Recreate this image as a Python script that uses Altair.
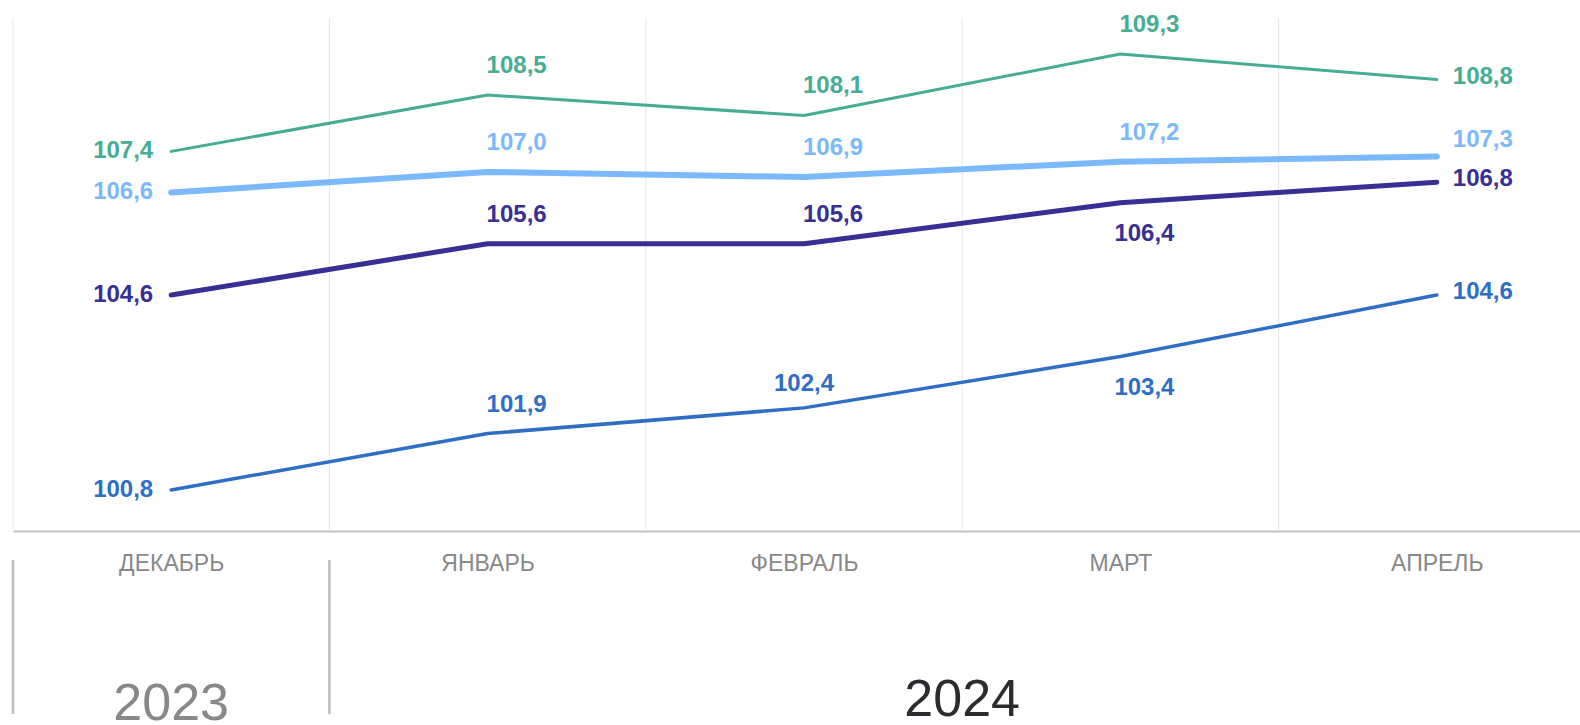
import json
import altair as alt
import pandas as pd

months = ["ДЕКАБРЬ", "ЯНВАРЬ", "ФЕВРАЛЬ", "МАРТ", "АПРЕЛЬ"]
series_names = ["s_green", "s_lightblue", "s_navy", "s_blue"]
series_colors = ["#46AD94", "#7CB9FC", "#372F94", "#2F6EC5"]
series_widths = [3, 6, 5, 3.5]

green_vals = [107.4, 108.5, 108.1, 109.3, 108.8]
lightblue_vals = [106.6, 107.0, 106.9, 107.2, 107.3]
navy_vals = [104.6, 105.6, 105.6, 106.4, 106.8]
blue_vals = [100.8, 101.9, 102.4, 103.4, 104.6]

green_place = ["L", "A", "A", "A", "R"]
lightblue_place = ["L", "A", "A", "A", "AR"]
navy_place = ["L", "A", "A", "B", "R"]
blue_place = ["L", "A", "AC", "B", "R"]

years = ["2023", "2024"]
year_start = [-0.5, 0.5]
year_end = [0.5, 4.5]
year_colors = ["#888888", "#2B2B30"]

FONT = "Liberation Sans"

rows = []
for name, vals, places in zip(
    series_names,
    [green_vals, lightblue_vals, navy_vals, blue_vals],
    [green_place, lightblue_place, navy_place, blue_place],
):
    for i, (v, p) in enumerate(zip(vals, places)):
        rows.append({"i": i, "series": name, "value": v, "place": p})
df = pd.DataFrame(rows)

grid_df = pd.DataFrame({"b": [-0.5, 0.5, 1.5, 2.5, 3.5]})
year_df = pd.DataFrame({"year": years, "start": year_start, "end": year_end,
                        "mid": [(a + b) / 2 for a, b in zip(year_start, year_end)]})
sep_df = pd.DataFrame({"b": year_start})

W, H = 1567, 513
xscale = alt.Scale(domain=[-0.5, -0.5 + W / 316.4], nice=False, zero=False)
yscale = alt.Scale(domain=[100, 110], nice=False, zero=False)
cscale = alt.Scale(domain=series_names, range=series_colors)

label_expr = json.dumps(months, ensure_ascii=False) + "[datum.value]"

x_axis = alt.Axis(
    values=[0, 1, 2, 3, 4], labelExpr=label_expr, grid=False, ticks=False,
    tickSize=0, domainColor="#C4C4C4", domainWidth=2, labelFont=FONT,
    labelFontSize=23, labelColor="#888888", labelPadding=39,
    labelBaseline="alphabetic", title=None, labelFlush=False,
)


def xenc(field):
    return alt.X(field, scale=xscale, axis=x_axis, title=None)


def yenc(field):
    return alt.Y(field, scale=yscale, axis=None, title=None)


grid = alt.Chart(grid_df).mark_rule(color="#E8E8E8", strokeWidth=1).encode(
    x=xenc("b:Q"),
    y=alt.value(0), y2=alt.value(H),
)

line_layers = []
for name, col, w in zip(series_names, series_colors, series_widths):
    line_layers.append(
        alt.Chart(df).transform_filter(alt.datum.series == name)
        .mark_line(strokeCap="round", strokeJoin="round", color=col, strokeWidth=w)
        .encode(x=xenc("i:Q"), y=yenc("value:Q"))
    )
# draw order: blue first, green last
line_layers = line_layers[::-1]

placements = {
    "L": dict(align="right", dx=-18, dy=0),
    "A": dict(align="left", dx=-1, dy=-29),
    "AC": dict(align="center", dx=0, dy=-24),
    "B": dict(align="left", dx=-6, dy=31),
    "R": dict(align="left", dx=16, dy=-3),
    "AR": dict(align="left", dx=16, dy=-17),
}

text_layers = []
for code, opts in placements.items():
    t = alt.Chart(df).transform_filter(
        alt.datum.place == code
    ).transform_calculate(
        label="replace(format(datum.value, '.1f'), '.', ',')"
    ).mark_text(
        font=FONT, fontSize=24, fontWeight="bold", baseline="middle", **opts
    ).encode(
        x=xenc("i:Q"),
        y=yenc("value:Q"),
        text="label:N",
        color=alt.Color("series:N", scale=cscale, legend=None),
    )
    text_layers.append(t)

seps = alt.Chart(sep_df).mark_rule(color="#BDBDBD", strokeWidth=2.5).encode(
    x=xenc("b:Q"),
    y=alt.value(542), y2=alt.value(696),
)

year_layers = []
for yr, col, base in zip(years, year_colors, [702, 698]):
    year_layers.append(
        alt.Chart(year_df).transform_filter(alt.datum.year == yr).mark_text(
            font=FONT, fontSize=52, baseline="alphabetic", align="center", color=col
        ).encode(
            x=xenc("mid:Q"),
            y=alt.value(base),
            text="year:N",
        )
    )

chart = alt.layer(grid, *line_layers, *text_layers, seps, *year_layers).properties(
    width=W, height=H,
    background="white",
    autosize=alt.AutoSizeParams(type="none"),
    padding={"left": 13, "top": 18, "right": 0, "bottom": 194},
).configure_view(stroke="transparent", strokeWidth=0)

chart.save("out.html", embed_options={"renderer": "svg", "actions": False})
